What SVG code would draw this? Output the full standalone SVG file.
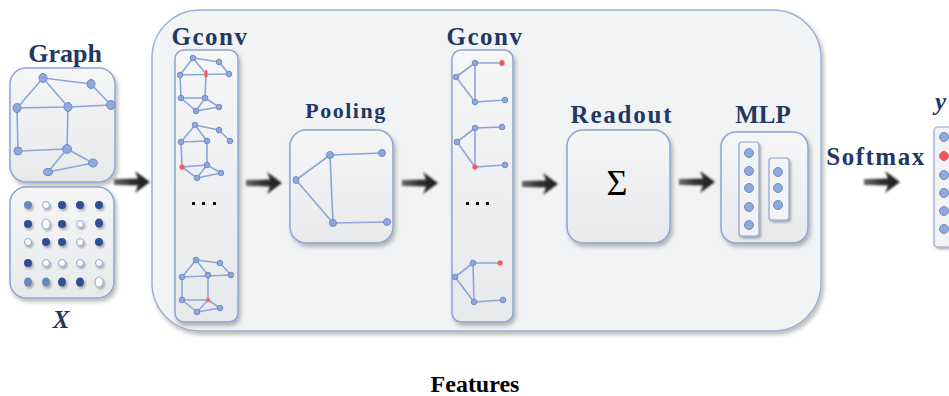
<svg xmlns="http://www.w3.org/2000/svg" width="949" height="396" viewBox="0 0 949 396">
<defs>
<linearGradient id="boxg" x1="0" y1="0" x2="0" y2="1">
<stop offset="0" stop-color="#f6f6f7"/>
<stop offset="1" stop-color="#e8e9eb"/>
</linearGradient>
<linearGradient id="arrg" x1="0" y1="0" x2="1" y2="0">
<stop offset="0" stop-color="#6a6a6a"/>
<stop offset="0.5" stop-color="#2e2e2e"/>
<stop offset="1" stop-color="#1e1e1e"/>
</linearGradient>
<filter id="sh" x="-20%" y="-20%" width="150%" height="150%">
<feDropShadow dx="2" dy="3" stdDeviation="2" flood-color="#000" flood-opacity="0.28"/>
</filter>
<filter id="shs" x="-50%" y="-50%" width="200%" height="200%">
<feDropShadow dx="1.5" dy="2" stdDeviation="1.2" flood-color="#000" flood-opacity="0.3"/>
</filter>
<filter id="sha" x="-20%" y="-50%" width="150%" height="200%">
<feGaussianBlur stdDeviation="0.8"/>
</filter>
<path id="arr" d="M0,-3 L24,-3.5 L21,-11 L36,0 L21,11 L24,3.5 L0,3 Z"/>
</defs>
<style>
.lbl{font-family:"Liberation Serif","Times New Roman",serif;font-weight:bold;fill:#1f3864}
.box{fill:url(#boxg);stroke:#8ea4d0;stroke-width:1.5;filter:url(#sh)}
.e{stroke:#8aa6d9;stroke-width:1.6;fill:none;stroke-linecap:round}
.n{fill:#8ea9da;stroke:#6d8dc7;stroke-width:1}
.r{fill:#f2555c;stroke:#e8888c;stroke-width:0.6}
.dk{fill:#2d4f94;filter:url(#shs)}
.md{fill:#6a87bb;filter:url(#shs)}
.wh{fill:#ffffff;stroke:#8ea4d0;stroke-width:1;filter:url(#shs)}
.dot{fill:#8ea9da;stroke:#6d8dc7;stroke-width:1}
.arrow{fill:url(#arrg);filter:url(#sha)}
</style>
<rect width="949" height="396" fill="#ffffff"/>

<g id="features-panel">
<rect x="152" y="10" width="669" height="321" rx="48" fill="#f2f3f5" stroke="#9fb0d4" stroke-width="1.5" filter="url(#sh)"/>
<text class="lbl" x="475" y="392" text-anchor="middle" font-size="24" style="fill:#000">Features</text>
</g>

<g id="graph-input">
<text class="lbl" x="65" y="62" text-anchor="middle" font-size="26">Graph</text>
<rect class="box" x="10" y="68" width="105" height="114" rx="16"/>
<g class="e">
<line x1="43" y1="78" x2="91" y2="84"/><line x1="91" y1="84" x2="111" y2="105"/>
<line x1="43" y1="78" x2="17" y2="108"/><line x1="43" y1="78" x2="68" y2="107"/>
<line x1="17" y1="108" x2="68" y2="107"/><line x1="68" y1="107" x2="111" y2="105"/>
<line x1="17" y1="108" x2="18" y2="151"/><line x1="68" y1="107" x2="67" y2="149"/>
<line x1="18" y1="151" x2="67" y2="149"/><line x1="67" y1="149" x2="93" y2="163"/>
<line x1="67" y1="149" x2="48" y2="172"/><line x1="48" y1="172" x2="93" y2="163"/>
</g>
<g class="n">
<ellipse cx="43" cy="78" rx="4" ry="4.5"/><ellipse cx="91" cy="84" rx="4" ry="4.5"/>
<ellipse cx="111" cy="105" rx="4.5" ry="4.5"/><ellipse cx="17" cy="108" rx="4" ry="4.5"/>
<ellipse cx="68" cy="107" rx="4" ry="4.5"/><ellipse cx="18" cy="151" rx="4" ry="4"/>
<ellipse cx="67" cy="149" rx="4.5" ry="4.5"/><ellipse cx="93" cy="163" rx="4.5" ry="4"/>
<ellipse cx="48" cy="172" rx="4.5" ry="3.5"/>
</g>
</g>

<g id="x-input">
<rect class="box" x="10" y="187" width="104" height="111" rx="16"/>
<circle class="md" cx="28" cy="205" r="4"/><circle class="wh" cx="46" cy="205" r="3.5"/><circle class="dk" cx="62" cy="205" r="4"/><circle class="dk" cx="80" cy="205" r="4"/><circle class="dk" cx="99" cy="205" r="4"/>
<circle class="dk" cx="28" cy="224" r="4"/><ellipse class="wh" cx="46" cy="224" rx="4" ry="5"/><circle class="dk" cx="62" cy="224" r="4"/><circle class="wh" cx="80" cy="224" r="3.5"/><ellipse class="dk" cx="99" cy="223" rx="4" ry="4.5"/>
<circle class="wh" cx="28" cy="242" r="3.5"/><circle class="dk" cx="46" cy="242" r="4"/><circle class="dk" cx="62" cy="242" r="4"/><circle class="wh" cx="80" cy="242" r="3.5"/><circle class="dk" cx="99" cy="242" r="4"/>
<circle class="dk" cx="28" cy="263" r="4"/><circle class="wh" cx="46" cy="263" r="3.5"/><circle class="wh" cx="62" cy="263" r="3.5"/><circle class="wh" cx="80" cy="263" r="3.5"/><circle class="wh" cx="99" cy="263" r="3.5"/>
<ellipse class="md" cx="28" cy="282" rx="4" ry="4.5"/><ellipse class="md" cx="46" cy="282" rx="4" ry="4.5"/><ellipse class="dk" cx="62" cy="282" rx="4" ry="4.5"/><ellipse class="dk" cx="80" cy="282" rx="4" ry="4.5"/><ellipse class="wh" cx="99" cy="282" rx="4" ry="5"/>
<text class="lbl" x="61" y="328" text-anchor="middle" font-size="25" font-style="italic">X</text>
</g>

<g id="gconv1">
<text class="lbl" x="210" y="45" text-anchor="middle" font-size="25" letter-spacing="1.5">Gconv</text>
<rect class="box" x="175" y="50" width="63" height="272" rx="9"/>
<g class="e">
<line x1="193" y1="58" x2="219" y2="62"/><line x1="219" y1="62" x2="229" y2="74"/>
<line x1="193" y1="58" x2="180" y2="75"/><line x1="193" y1="58" x2="206" y2="74"/>
<line x1="180" y1="75" x2="229" y2="74"/><line x1="180" y1="75" x2="181" y2="98"/>
<line x1="206" y1="74" x2="205" y2="98"/><line x1="181" y1="98" x2="205" y2="98"/>
<line x1="205" y1="98" x2="219" y2="107"/><line x1="205" y1="98" x2="196" y2="111"/>
<line x1="196" y1="111" x2="219" y2="107"/><line x1="181" y1="98" x2="196" y2="111"/>

<line x1="195" y1="125" x2="219" y2="130"/><line x1="219" y1="130" x2="230" y2="141"/>
<line x1="195" y1="125" x2="181" y2="142"/><line x1="195" y1="125" x2="207" y2="141"/>
<line x1="181" y1="142" x2="207" y2="141"/><line x1="181" y1="142" x2="182" y2="167"/>
<line x1="207" y1="141" x2="207" y2="165"/><line x1="182" y1="167" x2="207" y2="165"/>
<line x1="207" y1="165" x2="221" y2="173"/><line x1="207" y1="165" x2="197" y2="178"/>
<line x1="197" y1="178" x2="221" y2="173"/><line x1="182" y1="167" x2="197" y2="178"/>

<line x1="196" y1="260" x2="220" y2="263"/><line x1="220" y1="263" x2="231" y2="275"/>
<line x1="196" y1="260" x2="182" y2="277"/><line x1="196" y1="260" x2="208" y2="275"/>
<line x1="182" y1="277" x2="231" y2="275"/><line x1="182" y1="277" x2="182" y2="300"/>
<line x1="208" y1="275" x2="208" y2="300"/><line x1="182" y1="300" x2="208" y2="300"/>
<line x1="208" y1="300" x2="220" y2="308"/><line x1="208" y1="300" x2="197" y2="312"/>
<line x1="197" y1="312" x2="220" y2="308"/><line x1="182" y1="300" x2="197" y2="312"/>
</g>
<g class="n">
<circle cx="193" cy="58" r="2.8"/><circle cx="219" cy="62" r="2.8"/><circle cx="229" cy="74" r="2.8"/><circle cx="180" cy="75" r="2.8"/><circle cx="181" cy="98" r="2.8"/><circle cx="205" cy="98" r="2.8"/><circle cx="219" cy="107" r="2.8"/><circle cx="196" cy="111" r="2.8"/>
<circle cx="195" cy="125" r="2.8"/><circle cx="219" cy="130" r="2.8"/><circle cx="230" cy="141" r="2.8"/><circle cx="181" cy="142" r="2.8"/><circle cx="207" cy="141" r="2.8"/><circle cx="207" cy="165" r="2.8"/><circle cx="221" cy="173" r="2.8"/><circle cx="197" cy="178" r="2.8"/>
<circle cx="196" cy="260" r="2.8"/><circle cx="220" cy="263" r="2.8"/><circle cx="231" cy="275" r="2.8"/><circle cx="182" cy="277" r="2.8"/><circle cx="208" cy="275" r="2.8"/><circle cx="182" cy="300" r="2.8"/><circle cx="220" cy="308" r="2.8"/><circle cx="197" cy="312" r="2.8"/>
</g>
<ellipse class="r" cx="206" cy="74" rx="1.5" ry="4"/>
<circle class="r" cx="182" cy="167" r="2.5"/>
<circle class="r" cx="208" cy="300" r="2"/>
<g fill="#111"><rect x="192" y="202" width="3" height="3"/><rect x="202" y="202" width="3" height="3"/><rect x="213" y="202" width="3" height="3"/></g>
</g>

<g id="pooling">
<text class="lbl" x="346" y="118" text-anchor="middle" font-size="22" letter-spacing="1.5">Pooling</text>
<rect class="box" x="290" y="130" width="103" height="113" rx="16"/>
<g class="e">
<line x1="296" y1="180" x2="330" y2="155"/><line x1="330" y1="155" x2="382" y2="153"/>
<line x1="296" y1="180" x2="333" y2="223"/><line x1="330" y1="155" x2="333" y2="223"/>
<line x1="333" y1="223" x2="387" y2="222"/>
</g>
<g class="n">
<circle cx="330" cy="155" r="3.5"/><circle cx="382" cy="153" r="3.5"/><ellipse cx="296" cy="180" rx="3" ry="3.5"/><circle cx="333" cy="223" r="3.5"/><circle cx="387" cy="222" r="3.5"/>
</g>
</g>

<g id="gconv2">
<text class="lbl" x="485" y="45" text-anchor="middle" font-size="25" letter-spacing="1.5">Gconv</text>
<rect class="box" x="452" y="50" width="61" height="272" rx="9"/>
<g class="e">
<line x1="456" y1="77" x2="475" y2="63"/><line x1="475" y1="63" x2="502" y2="63"/><line x1="456" y1="77" x2="475" y2="102"/><line x1="475" y1="63" x2="475" y2="102"/><line x1="475" y1="102" x2="505" y2="100"/>
<line x1="457" y1="142" x2="475" y2="128"/><line x1="475" y1="128" x2="502" y2="127"/><line x1="457" y1="142" x2="475" y2="167"/><line x1="475" y1="128" x2="475" y2="167"/><line x1="475" y1="167" x2="505" y2="165"/>
<line x1="455" y1="277" x2="473" y2="263"/><line x1="473" y1="263" x2="500" y2="263"/><line x1="455" y1="277" x2="474" y2="302"/><line x1="473" y1="263" x2="474" y2="302"/><line x1="474" y1="302" x2="503" y2="300"/>
</g>
<g class="n">
<circle cx="456" cy="77" r="2.8"/><circle cx="475" cy="63" r="2.8"/><circle cx="475" cy="102" r="2.8"/><circle cx="505" cy="100" r="2.8"/>
<circle cx="457" cy="142" r="2.8"/><circle cx="475" cy="128" r="2.8"/><circle cx="502" cy="127" r="2.8"/><circle cx="505" cy="165" r="2.8"/>
<circle cx="455" cy="277" r="2.8"/><circle cx="473" cy="263" r="2.8"/><circle cx="474" cy="302" r="2.8"/><circle cx="503" cy="300" r="2.8"/>
</g>
<ellipse class="r" cx="502" cy="63" rx="2.5" ry="3"/>
<circle class="r" cx="475" cy="167" r="2.5"/>
<circle class="r" cx="500" cy="263" r="2.5"/>
<g fill="#111"><rect x="466" y="202" width="3" height="3"/><rect x="476" y="202" width="3" height="3"/><rect x="486" y="202" width="3" height="3"/></g>
</g>

<g id="readout">
<text class="lbl" x="622" y="123" text-anchor="middle" font-size="25" letter-spacing="1.8">Readout</text>
<rect class="box" x="567" y="130" width="103" height="113" rx="16"/>
<text x="617" y="195" text-anchor="middle" font-family="Liberation Serif, serif" font-size="36" fill="#000">Σ</text>
</g>

<g id="mlp">
<text class="lbl" x="763" y="123" text-anchor="middle" font-size="25">MLP</text>
<rect class="box" x="721" y="132" width="87" height="111" rx="15"/>
<rect x="739" y="142" width="20" height="94" rx="3" fill="#f3f3f4" stroke="#8ea4d0" stroke-width="1.2" filter="url(#shs)"/>
<rect x="769" y="158" width="20" height="62" rx="3" fill="#f3f3f4" stroke="#8ea4d0" stroke-width="1.2" filter="url(#shs)"/>
<g class="dot">
<circle cx="749" cy="153" r="4.5"/><circle cx="749" cy="171" r="4.5"/><circle cx="749" cy="188" r="4.5"/><circle cx="749" cy="207" r="4.5"/><circle cx="749" cy="225" r="4.5"/>
<circle cx="778" cy="172" r="4.5"/><circle cx="778" cy="188" r="4.5"/><circle cx="778" cy="205" r="4.5"/>
</g>
</g>

<g id="output-y">
<text class="lbl" x="935" y="110" font-size="25" font-style="italic">y</text>
<rect x="934" y="127" width="30" height="120" rx="4" fill="#f3f3f4" stroke="#8ea4d0" stroke-width="1.2" filter="url(#shs)"/>
<g class="dot">
<circle cx="944" cy="137" r="4.5"/><circle cx="944" cy="175" r="4.5"/><circle cx="944" cy="193" r="4.5"/><circle cx="944" cy="211" r="4.5"/><circle cx="944" cy="229" r="4.5"/>
</g>
<circle cx="944" cy="156" r="4.5" fill="#f2555c" stroke="#d86a70" stroke-width="1"/>
</g>

<g id="connectors">
<use href="#arr" class="arrow" transform="translate(114,182)"/>
<use href="#arr" class="arrow" transform="translate(246,183)"/>
<use href="#arr" class="arrow" transform="translate(402,183)"/>
<use href="#arr" class="arrow" transform="translate(522,184)"/>
<use href="#arr" class="arrow" transform="translate(679,182)"/>
<use href="#arr" class="arrow" transform="translate(864,182)"/>
<text class="lbl" x="876" y="165" text-anchor="middle" font-size="25" letter-spacing="1.5">Softmax</text>
</g>
</svg>
